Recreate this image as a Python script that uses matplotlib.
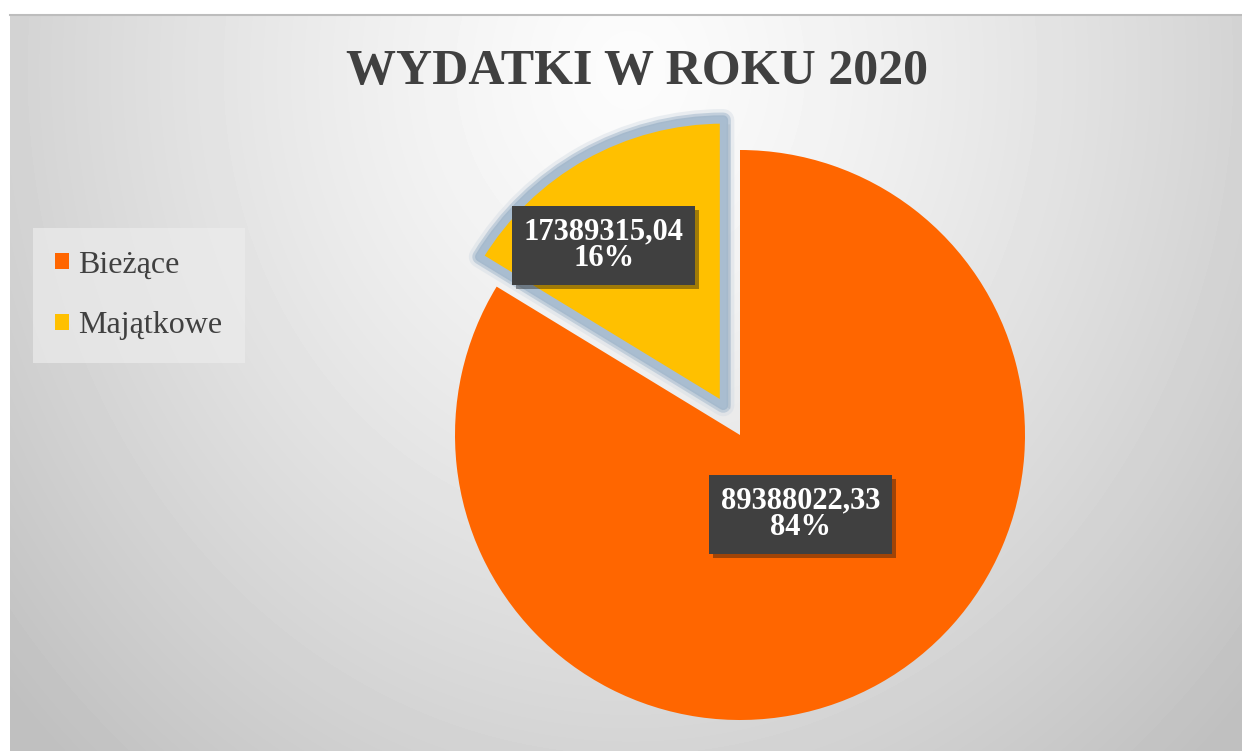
import numpy as np
import matplotlib.pyplot as plt
from matplotlib import patheffects as pe
from matplotlib.patches import Patch

title = "WYDATKI W ROKU 2020"
categories = ["Bieżące", "Majątkowe"]
values = [89388022.33, 17389315.04]
colors = ["#ff6600", "#ffc000"]
explode_frac = [0.0, 0.12]

W, H = 1242, 751
R = 285
SERIF = "Liberation Serif"
TXT = "#404040"

fig = plt.figure(figsize=(W / 100, H / 100), dpi=100)
ax = fig.add_axes([0, 0, 1, 1])

# radial grey background (chart area starts a bit right/below the image edge)
yy, xx = np.mgrid[0:H - 15, 0:W - 10]
px, py = xx + 10, yy + 15
r = np.sqrt(((px - 630) / 740.0) ** 2 + ((py - 70) / 840.0) ** 2)
bg = np.clip(252 - 52 * r ** 1.3, 192, 252)
ax.imshow(bg, cmap="gray", vmin=0, vmax=255, extent=(10, W, 0, H - 15),
          origin="upper", zorder=0, interpolation="bilinear")
ax.plot([10, W], [H - 15, H - 15], color="#bdbdbd", lw=1.5, zorder=1)

# matplotlib's explode is in data units, so scale by the radius
wedges, _ = ax.pie(values, colors=colors, explode=[e * R for e in explode_frac],
                   startangle=90, counterclock=False, center=(740, H - 435),
                   radius=R, wedgeprops=dict(linewidth=0))
for w in wedges:
    w.set_zorder(2)

# glow + shadow on the pulled-out slice
wedges[1].set_edgecolor("#a9bdd0")
wedges[1].set_linewidth(5)
wedges[1].set_joinstyle("round")
wedges[1].set_zorder(3)
wedges[1].set_path_effects([
    pe.SimplePatchShadow(offset=(5, -3), shadow_rgbFace="#555555", alpha=0.35),
    pe.Stroke(linewidth=16, foreground="#d0d9e2", alpha=0.4),
    pe.Stroke(linewidth=11, foreground="#b3c4d4", alpha=0.7),
    pe.Stroke(linewidth=7, foreground="#a3b8cc", alpha=0.9),
    pe.Normal(),
])

ax.set_xlim(0, W)
ax.set_ylim(0, H)
ax.set_aspect("equal")
ax.axis("off")

# data labels
total = sum(values)
label_dist = [0.35, 0.70]
label_turn = [8.0, 7.5]
for w, v, d, t in zip(wedges, values, label_dist, label_turn):
    ang = np.deg2rad((w.theta1 + w.theta2) / 2 + t)
    cx, cy = w.center
    x = cx + d * w.r * np.cos(ang)
    y = cy + d * w.r * np.sin(ang)
    s = f"{v:.2f}".replace(".", ",") + f"\n{round(100 * v / total)}%"
    txt = ax.text(x, y, s, ha="center", va="center", fontsize=22,
                  family=SERIF, weight="bold", color="white", linespacing=0.9,
                  zorder=5,
                  bbox=dict(boxstyle="square,pad=0.38", fc="#404040", ec="none"))
    txt.get_bbox_patch().set_path_effects(
        [pe.SimplePatchShadow(offset=(3, -3), alpha=0.4), pe.Normal()])

fig.text(637 / W, 1 - 72 / H, title, ha="center", va="center", fontsize=36,
         family=SERIF, weight="bold", color=TXT)

handles = [Patch(facecolor=c, edgecolor="none") for c in colors]
leg = ax.legend(handles, categories, loc="upper left",
                bbox_to_anchor=(33 / W, 1 - 228 / H), bbox_transform=fig.transFigure,
                prop=dict(family=SERIF, size=23), labelcolor=TXT,
                frameon=True, fancybox=False, handlelength=0.42, handleheight=0.42,
                handletextpad=0.3, labelspacing=1.0, borderpad=0.7,
                borderaxespad=0)
leg.get_frame().set_facecolor("#ececec")
leg.get_frame().set_alpha(0.7)
leg.get_frame().set_edgecolor("none")
leg.set_zorder(6)

fig.savefig("out.png", dpi=100)
